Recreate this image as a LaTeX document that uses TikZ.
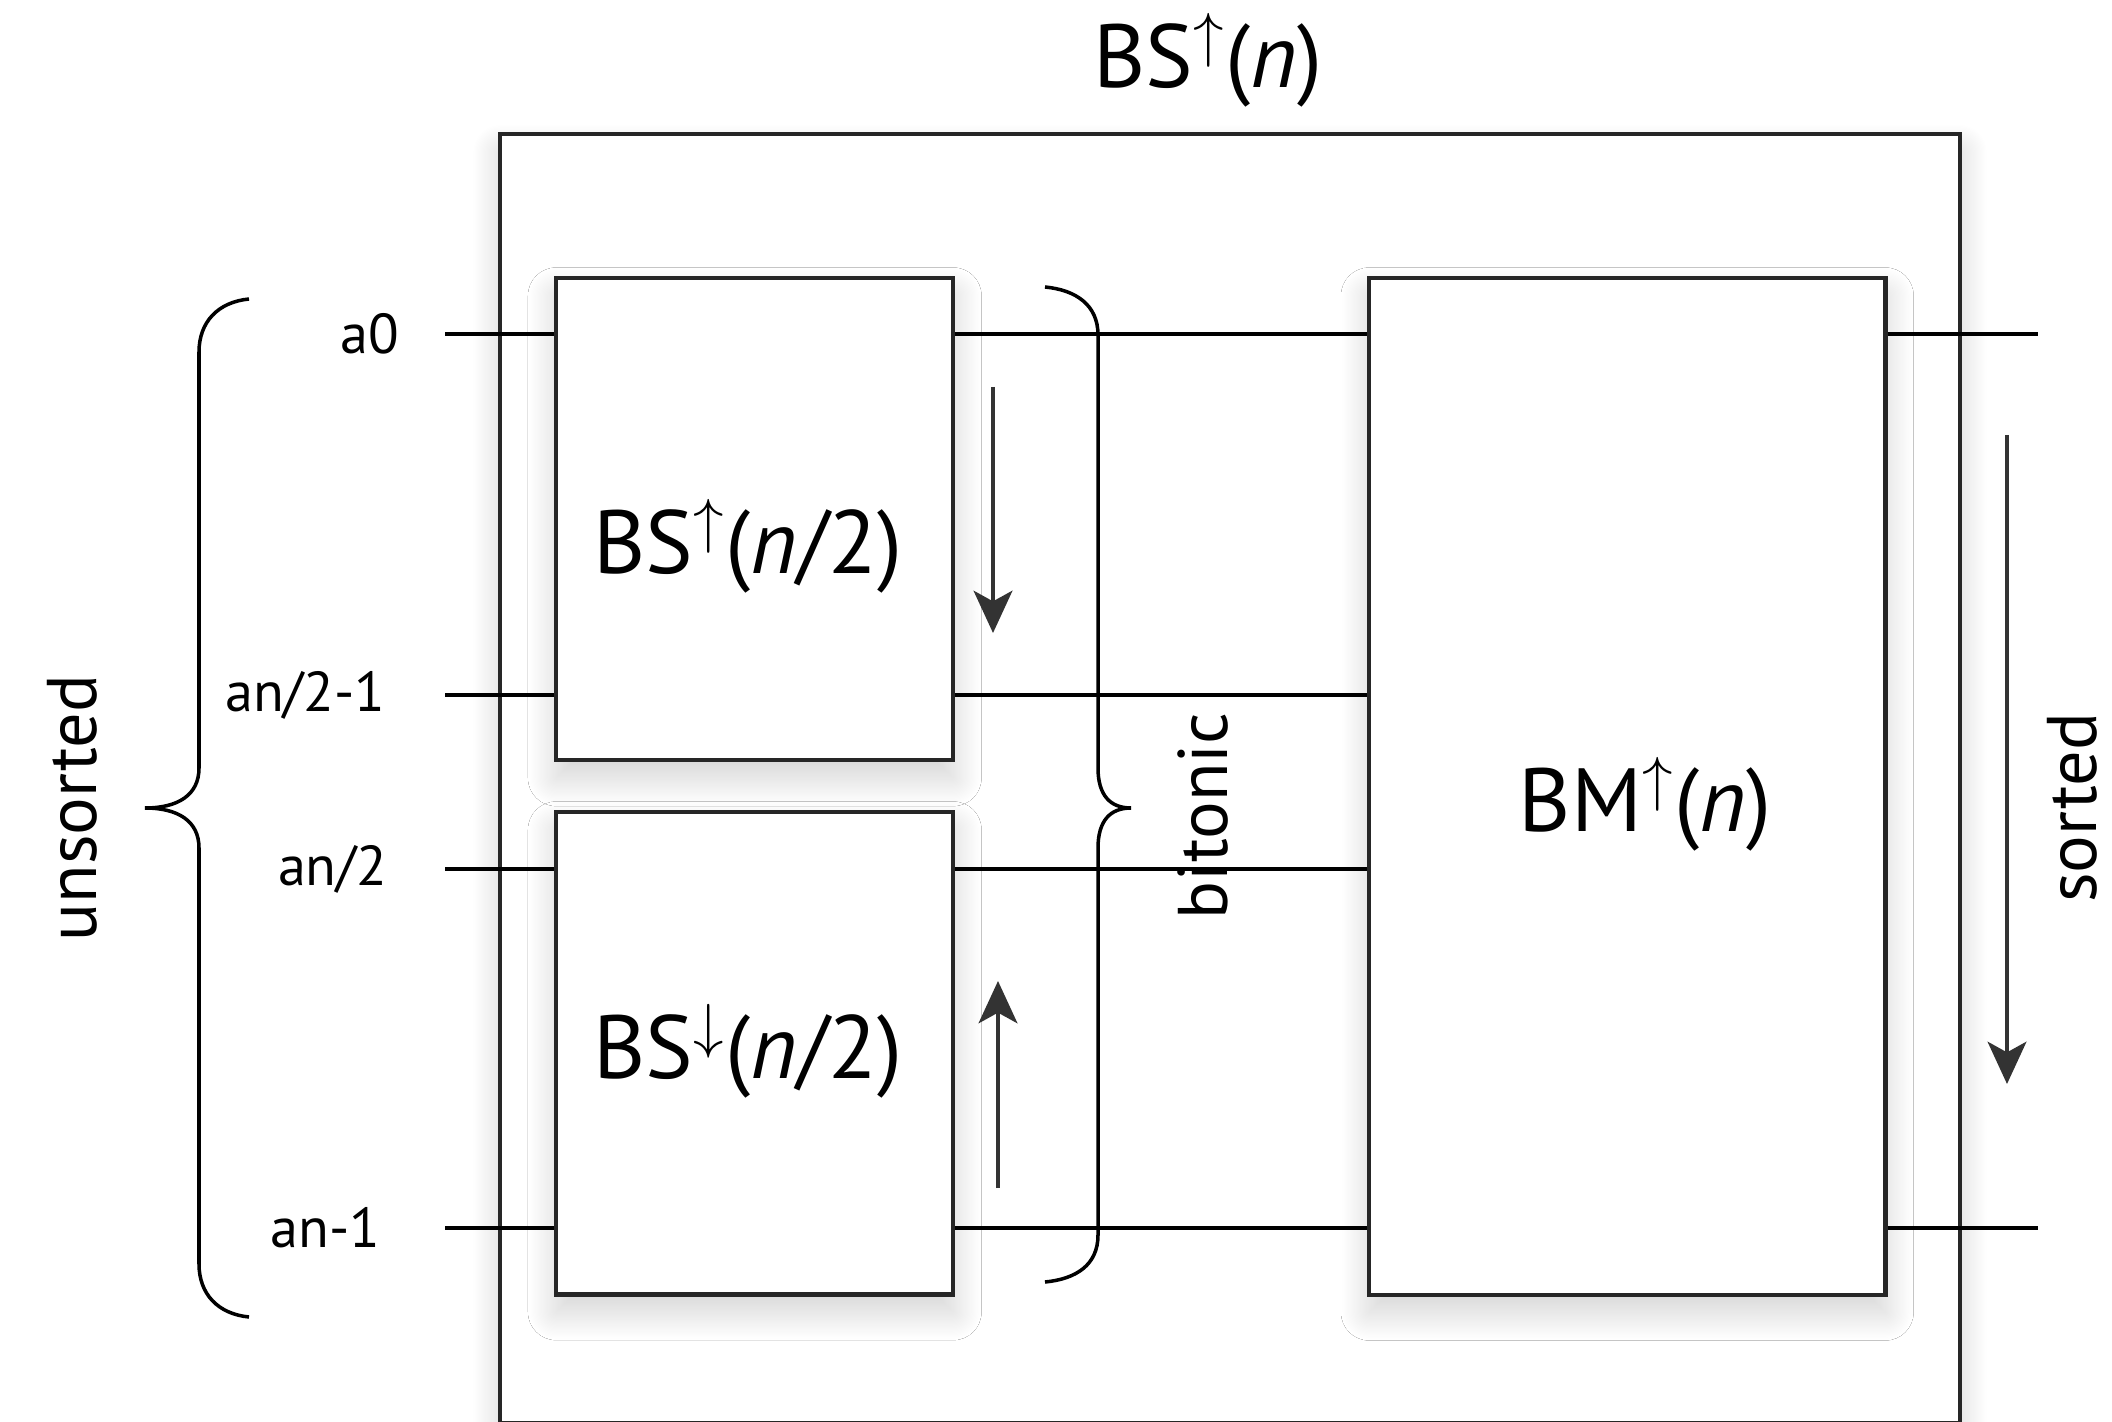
\documentclass[tikz,border=0pt]{standalone}
\usepackage{fontspec}
\setmainfont{PT Sans}
\usetikzlibrary{arrows.meta,shadows.blur}
\begin{document}
\begin{tikzpicture}[x=0.01cm,y=-0.01cm,
  shd/.style={blur shadow={shadow xshift=0pt,shadow yshift=-5pt,shadow blur radius=8pt,shadow blur steps=24,shadow opacity=18}},
  outerbox/.style={draw=black!85,line width=1.2pt,fill=white,shd,anchor=north west,inner sep=0pt},
  box/.style={draw=black!85,line width=1.2pt,fill=white,shd,anchor=north west,inner sep=0pt},
  wire/.style={draw=black,line width=1pt},
  brace/.style={draw=black,line width=1pt},
  arr/.style={draw=black!80,line width=1.2pt,-{Stealth[length=12pt,width=11pt,inset=3pt]}},
  big/.style={font=\fontsize{25.5}{30}\selectfont},
  small/.style={font=\fontsize{16}{19}\selectfont,anchor=east,inner sep=0pt},
  side/.style={font=\fontsize{20}{24}\selectfont,rotate=90,inner sep=0pt}]
\useasboundingbox (0,0) rectangle (2112,1422);
% boxes
\node[outerbox,minimum width=14.59cm,minimum height=12.88cm] (outer) at (498,132) {};
\node[box,minimum width=3.97cm,minimum height=4.82cm] (up) at (554,276) {};
\node[box,minimum width=3.97cm,minimum height=4.82cm] (lo) at (554,810) {};
\node[box,minimum width=5.16cm,minimum height=10.16cm] (bm) at (1367,276) {};
% box texts
\node[big] (title) at (1208,60) {BS$^{\uparrow}$(\textit{n})};
\node[big] (upt) at (748,546) {BS$^{\uparrow}$(\textit{n}/2)};
\node[big] (lot) at (748,1051) {BS$^{\downarrow}$(\textit{n}/2)};
\node[big] (bmt) at (1645,804) {BM$^{\uparrow}$(\textit{n})};
% input wires
\coordinate (i0) at (445,334);
\coordinate (i1) at (445,695);
\coordinate (i2) at (445,869);
\coordinate (i3) at (445,1228);
\coordinate (o0) at (2038,334);
\coordinate (o3) at (2038,1228);
\node[small] (l0) at (400,334) {a0};
\node[small] (l1) at (386,695) {an/2-1};
\node[small] (l2) at (388,869) {an/2};
\node[small] (l3) at (381,1228) {an-1};
\draw[wire] (i0) -- (i0 -| up.west);
\draw[wire] (i1) -- (i1 -| up.west);
\draw[wire] (i2) -- (i2 -| lo.west);
\draw[wire] (i3) -- (i3 -| lo.west);
\draw[wire] (i0 -| up.east) -- (i0 -| bm.west);
\draw[wire] (i1 -| up.east) -- (i1 -| bm.west);
\draw[wire] (i2 -| lo.east) -- (i2 -| bm.west);
\draw[wire] (i3 -| lo.east) -- (i3 -| bm.west);
\draw[wire] (o0 -| bm.east) -- (o0);
\draw[wire] (o3 -| bm.east) -- (o3);
% arrows
\coordinate (a1s) at (993,387); \coordinate (a1e) at (993,633);
\coordinate (a2s) at (998,1188); \coordinate (a2e) at (998,981);
\coordinate (a3s) at (2007,435); \coordinate (a3e) at (2007,1084);
\draw[arr] (a1s) -- (a1e);
\draw[arr] (a2s) -- (a2e);
\draw[arr] (a3s) -- (a3e);
% braces
\draw[brace] (249,299) .. controls (218,302) and (199,322) .. (199,352) -- (199,768)
  .. controls (199,795) and (178,808) .. (145,808)
  .. controls (178,808) and (199,821) .. (199,848) -- (199,1264)
  .. controls (199,1294) and (218,1314) .. (249,1317);
\draw[brace] (1045,287) .. controls (1076,290) and (1098,305) .. (1098,335) -- (1098,768)
  .. controls (1098,795) and (1110,808) .. (1131,808)
  .. controls (1110,808) and (1098,821) .. (1098,848) -- (1098,1235)
  .. controls (1098,1265) and (1076,1279) .. (1045,1282);
% side labels
\node[side] (unsorted) at (72,808) {unsorted};
\node[side] (bitonic) at (1203,816) {bitonic};
\node[side] (sorted) at (2072,808) {sorted};
\end{tikzpicture}
\end{document}
